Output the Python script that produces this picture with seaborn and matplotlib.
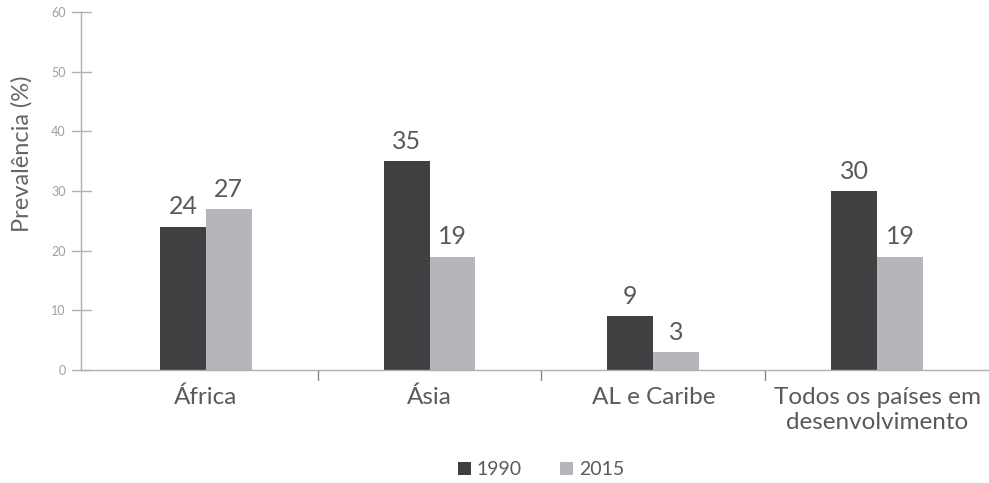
import matplotlib
matplotlib.use("Agg")
import matplotlib.pyplot as plt
import seaborn as sns
import pandas as pd

regioes = ["África", "Ásia", "AL e Caribe", "Todos os países em\ndesenvolvimento"]
anos = ["1990", "2015"]
valores_1990 = [24, 35, 9, 30]
valores_2015 = [27, 19, 3, 19]
yticks = [0, 10, 20, 30, 40, 50, 60]

cores = {"1990": "#3f4042", "2015": "#b5b6b9"}
cinza_eixo = "#b0b0b0"

df = pd.DataFrame({
    "regiao": regioes * 2,
    "ano": [anos[0]] * 4 + [anos[1]] * 4,
    "valor": valores_1990 + valores_2015,
})

sns.set_style("white")
plt.rcParams["font.family"] = ["Lato", "DejaVu Sans"]

fig = plt.figure(figsize=(9.89, 4.83), dpi=100)
ax = fig.add_axes([81 / 989, 1 - 370 / 483, 1 - 81 / 989, (370 - 12) / 483])

sns.barplot(data=df, x="regiao", y="valor", hue="ano", order=regioes,
            hue_order=anos, palette=cores, width=0.41, saturation=1,
            edgecolor="none", linewidth=0, ax=ax, legend=True)

for cont in ax.containers:
    ax.bar_label(cont, fmt="%d", padding=6, fontsize=18, color="#5a5a5a")

ax.set_xlim(-0.558, 3.5)
ax.set_ylim(0, 60)
ax.set_yticks(yticks)
ax.set_yticklabels([str(t) for t in yticks], fontsize=9, color="#a0a0a0")
ax.tick_params(axis="y", length=0, pad=11)
for t in yticks:
    ax.plot([-0.558 - 9 / 224, -0.558 + 10 / 224], [t, t], color=cinza_eixo,
            lw=1, clip_on=False, transform=ax.transData)

ax.set_xticks(range(len(regioes)))
ax.set_xticklabels(regioes, fontsize=17.5, color="#5a5a5a", linespacing=1.25)
ax.tick_params(axis="x", length=0, pad=12)
for sep in [0.5, 1.5, 2.5]:
    ax.plot([sep, sep], [0, -1.7], color="#888888", lw=1, clip_on=False)

ax.set_xlabel("")
ax.set_ylabel("Prevalência (%)", fontsize=17, color="#666666")
ax.yaxis.set_label_coords(-0.053, 0.605)

for lado in ["top", "right"]:
    ax.spines[lado].set_visible(False)
ax.spines["left"].set_color(cinza_eixo)
ax.spines["bottom"].set_color(cinza_eixo)
ax.spines["left"].set_linewidth(1)
ax.spines["bottom"].set_linewidth(1)

handles, labels = ax.get_legend_handles_labels()
ax.get_legend().remove()
fig.legend(handles, labels, loc="center", bbox_to_anchor=(0.547, 0.027),
           ncol=2, frameon=False, fontsize=14, handlelength=0.65,
           handleheight=0.65, handletextpad=0.3, columnspacing=2.0,
           labelcolor="#5a5a5a")

fig.savefig("out.png", dpi=100)
